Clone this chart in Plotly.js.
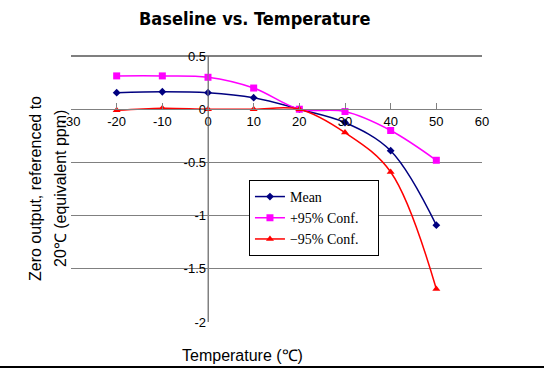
<!DOCTYPE html>
<html>
<head>
<meta charset="utf-8">
<script src="https://cdn.plot.ly/plotly-3.0.1.min.js"></script>
<style>
html,body{margin:0;padding:0;background:#fff;}
#chart{width:544px;height:377px;position:relative;}
#rule{position:absolute;left:0;top:366px;width:544px;height:2px;background:#000;}
</style>
</head>
<body>
<div id="chart"></div>
<div id="rule"></div>
<script>
const temperature = [-20, -10, 0, 10, 20, 30, 40, 50];
const meanValues = [0.155, 0.164, 0.155, 0.108, 0.0, -0.125, -0.39, -1.09];
const plus95Values = [0.313, 0.313, 0.30, 0.199, 0.0, -0.022, -0.20, -0.48];
const minus95Values = [-0.01, 0.01, 0.0, 0.0, 0.0, -0.22, -0.59, -1.69];
const seriesNames = ['Mean', '+95% Conf.', '\u221295% Conf.'];
const xTicks = [-30, -20, -10, 0, 10, 20, 30, 40, 50, 60];
const yTicks = [-2, -1.5, -1, -0.5, 0, 0.5];

const xRange = [-30, 60];
const yRange = [-2, 0.5];
const pad = '\u00a0\u00a0\u00a0\u00a0';

const traces = [
  {x: temperature, y: meanValues, name: seriesNames[0] + pad, mode: 'lines+markers',
   line: {color: '#000080', width: 1.5, shape: 'spline', smoothing: 1},
   marker: {symbol: 'diamond', size: 6, color: '#000080'}},
  {x: temperature, y: plus95Values, name: seriesNames[1] + pad, mode: 'lines+markers',
   line: {color: '#FF00FF', width: 1.5, shape: 'spline', smoothing: 1},
   marker: {symbol: 'square', size: 7, color: '#FF00FF'}},
  {x: temperature, y: minus95Values, name: seriesNames[2] + pad, mode: 'lines+markers',
   line: {color: '#FF0000', width: 1.5, shape: 'spline', smoothing: 1},
   marker: {symbol: 'triangle-up', size: 7, color: '#FF0000'}}
];

const yZeroFrac = (0 - yRange[0]) / (yRange[1] - yRange[0]);
const xZeroFrac = (0 - xRange[0]) / (xRange[1] - xRange[0]);

const layout = {
  width: 544, height: 377,
  margin: {l: 71, r: 62, t: 56, b: 55},
  paper_bgcolor: '#fff', plot_bgcolor: '#fff',
  showlegend: true,
  font: {family: 'Liberation Sans, Arial, sans-serif', color: '#000', size: 12},
  xaxis: {
    range: xRange, tickvals: xTicks, ticktext: xTicks.map(String),
    anchor: 'free', position: yZeroFrac, side: 'bottom',
    showgrid: false, zeroline: true, zerolinecolor: '#808080', zerolinewidth: 1,
    showline: true, linecolor: '#808080', linewidth: 1,
    ticks: 'inside', ticklen: 6, tickcolor: '#808080', tickwidth: 1,
    tickfont: {size: 13, family: 'Liberation Sans, Arial, sans-serif'},
    fixedrange: true
  },
  yaxis: {
    range: yRange, tickvals: yTicks, ticktext: yTicks.map(String),
    anchor: 'free', position: xZeroFrac, side: 'left',
    showgrid: true, gridcolor: '#808080', gridwidth: 1,
    zeroline: false, showline: false,
    ticks: '', ticklabelstandoff: 2,
    tickfont: {size: 13, family: 'Liberation Sans, Arial, sans-serif'},
    fixedrange: true
  },
  shapes: [
    {type: 'line', xref: 'paper', yref: 'paper', x0: 0, x1: 1, y0: 1, y1: 1,
     line: {color: '#000', width: 1.2}},
    {type: 'line', xref: 'x', yref: 'paper', x0: 0, x1: 0, y0: 0, y1: 1,
     line: {color: '#808080', width: 1}}
  ],
  legend: {
    x: 0.433, y: 0.534, xanchor: 'left', yanchor: 'top',
    bgcolor: '#fff', bordercolor: '#000', borderwidth: 1,
    font: {family: 'Liberation Serif, DejaVu Serif, serif', size: 14, color: '#000'},
    tracegroupgap: 0, itemwidth: 30
  },
  annotations: [
    {text: '<b>Baseline vs. Temperature</b>', xref: 'paper', yref: 'paper',
     x: (254 - 71) / 411, y: 1 + (56 - 19) / 266, xanchor: 'center', yanchor: 'middle',
     showarrow: false, font: {family: 'DejaVu Sans Condensed, Liberation Sans, sans-serif', size: 18, color: '#000'}},
    {text: 'Zero output, referenced to', xref: 'paper', yref: 'paper',
     x: (35 - 71) / 411, y: (322 - 189) / 266, xanchor: 'center', yanchor: 'middle', textangle: -90,
     showarrow: false, font: {size: 16, family: 'Liberation Sans, Arial, sans-serif', color: '#000'}},
    {text: '20\u2103 (equivalent ppm)', xref: 'paper', yref: 'paper',
     x: (60 - 71) / 411, y: (322 - 189) / 266, xanchor: 'center', yanchor: 'middle', textangle: -90,
     showarrow: false, font: {size: 16, family: 'Liberation Sans, Arial, sans-serif', color: '#000'}},
    {text: 'Temperature (\u2103)', xref: 'paper', yref: 'paper',
     x: (242 - 71) / 411, y: (322 - 355) / 266, xanchor: 'center', yanchor: 'middle',
     showarrow: false, font: {size: 16, family: 'Liberation Sans, Arial, sans-serif', color: '#000'}}
  ]
};

Plotly.newPlot('chart', traces, layout, {displayModeBar: false, staticPlot: true});
</script>
</body>
</html>
